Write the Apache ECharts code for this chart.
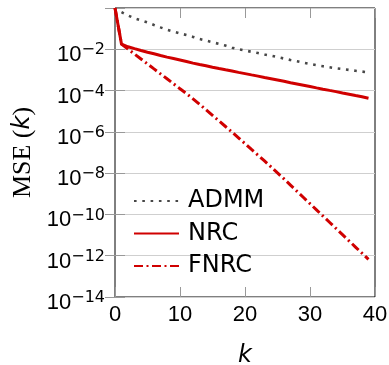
<!DOCTYPE html>
<html>
<head>
<meta charset="utf-8">
<script src="https://cdn.jsdelivr.net/npm/echarts@6/dist/echarts.min.js"></script>
<style>html,body{margin:0;padding:0;background:#fff}#c{width:389px;height:365px}</style>
</head>
<body>
<div id="c"></div>
<script>
const seriesNames = ['ADMM', 'NRC', 'FNRC'];
const xTicks = [0, 10, 20, 30, 40];
const yTickExponents = [0, -2, -4, -6, -8, -10, -12, -14];

const admmK = [1,2,3,4,5,6,7,8,9,10,11,12,13,14,15,16,17,18,19,20,21,22,23,24,25,26,27,28,29,30,31,32,33,34,35,36,37,38,39];
const admmMSE = [0.631,0.437,0.316,0.251,0.200,0.151,0.115,8.91e-2,7.24e-2,5.89e-2,4.90e-2,3.98e-2,3.16e-2,2.63e-2,2.19e-2,1.82e-2,1.51e-2,1.20e-2,1.00e-2,8.71e-3,7.59e-3,6.61e-3,5.62e-3,4.90e-3,4.17e-3,3.55e-3,3.02e-3,2.63e-3,2.24e-3,1.95e-3,1.70e-3,1.51e-3,1.35e-3,1.20e-3,1.10e-3,1.00e-3,9.12e-4,8.32e-4,7.59e-4];

const nrcK = [0,1,2,3,4,5,6,7,8,9,10,11,12,13,14,15,16,17,18,19,20,21,22,23,24,25,26,27,28,29,30,31,32,33,34,35,36,37,38,39];
const nrcMSE = [1.0,1.78e-2,1.32e-2,1.07e-2,8.71e-3,7.24e-3,6.03e-3,5.01e-3,4.17e-3,3.55e-3,3.02e-3,2.57e-3,2.14e-3,1.82e-3,1.58e-3,1.35e-3,1.17e-3,1.02e-3,8.91e-4,7.59e-4,6.61e-4,5.75e-4,5.01e-4,4.27e-4,3.72e-4,3.24e-4,2.82e-4,2.40e-4,2.09e-4,1.82e-4,1.58e-4,1.35e-4,1.17e-4,1.02e-4,8.91e-5,7.59e-5,6.61e-5,5.75e-5,5.01e-5,4.27e-5];

const fnrcK = [0,1,2,3,4,5,6,7,8,9,10,11,12,13,14,15,16,17,18,19,20,21,22,23,24,25,26,27,28,29,30,31,32,33,34,35,36,37,38,39];
const fnrcMSE = [1.0,1.78e-2,1.02e-2,5.89e-3,3.39e-3,1.95e-3,1.12e-3,6.46e-4,3.72e-4,2.14e-4,1.23e-4,7.08e-5,3.98e-5,2.19e-5,1.17e-5,6.31e-6,3.39e-6,1.82e-6,9.77e-7,5.13e-7,2.69e-7,1.41e-7,7.41e-8,3.89e-8,2.00e-8,1.02e-8,5.25e-9,2.63e-9,1.32e-9,6.61e-10,3.31e-10,1.66e-10,8.32e-11,4.17e-11,2.09e-11,1.05e-11,5.25e-12,2.63e-12,1.32e-12,6.61e-13];

const pair = (ks, vs) => ks.map((k, i) => [k, vs[i]]);
const SANS = 'DejaVu Sans';
const TICKFONT = 'Liberation Sans';
const SERIF = 'Liberation Serif';
const RED = '#d00000';

const chart = echarts.init(document.getElementById('c'), null, {renderer: 'canvas'});
const tickStyle = {show: true, inside: true, length: 10, lineStyle: {color: '#999', width: 1}};
const yMin = Math.pow(10, Math.min(...yTickExponents));
const yMax = Math.pow(10, Math.max(...yTickExponents));

chart.setOption({
  animation: false,
  grid: {left: 115, right: 14, top: 8, bottom: 68, containLabel: false, outerBoundsMode: 'none',
    show: true, borderColor: '#000', borderWidth: 1, backgroundColor: 'transparent'},
  legend: {
    data: seriesNames,
    orient: 'vertical',
    left: 133, top: 189, padding: 0,
    itemWidth: 45, itemHeight: 14, itemGap: 8.5,
    itemStyle: {opacity: 0},
    textStyle: {fontFamily: SANS, fontSize: 24, color: '#000', lineHeight: 24, padding: [0, 0, 0, 4]}
  },
  xAxis: [{
    type: 'value', min: xTicks[0], max: xTicks[xTicks.length - 1], interval: 10,
    axisLine: {show: false}, axisTick: tickStyle, splitLine: {show: false},
    axisLabel: {fontFamily: TICKFONT, fontSize: 22, color: '#000', margin: 7},
    name: 'k', nameLocation: 'middle', nameGap: 47,
    nameTextStyle: {fontFamily: SANS, fontStyle: 'italic', fontSize: 24, color: '#000'}
  }, {
    type: 'value', position: 'top', min: xTicks[0], max: xTicks[xTicks.length - 1], interval: 10,
    axisLine: {show: false}, axisTick: tickStyle, axisLabel: {show: false}, splitLine: {show: false}
  }],
  yAxis: [{
    type: 'log', logBase: 10, min: yMin, max: yMax, interval: 2,
    axisLine: {show: false}, axisTick: tickStyle,
    splitLine: {show: true, lineStyle: {color: '#cfcfcf', width: 1.2}},
    axisLabel: {
      margin: 10,
      padding: [12, 0, 0, 0],
      formatter: function (v) {
        const e = Math.round(Math.log10(v));
        if (e === 0) return '';
        return '{b|10}{e|\u2212' + (-e) + '}';
      },
      rich: {
        b: {fontFamily: TICKFONT, fontSize: 22, color: '#000', lineHeight: 26},
        e: {fontFamily: SANS, fontSize: 16, color: '#000', verticalAlign: 'top', lineHeight: 16}
      }
    },
    name: '{r|MSE}{r| (}{i|k}{r|)}', nameLocation: 'middle', nameGap: 76, nameRotate: 90,
    nameTextStyle: {
      rich: {
        r: {fontFamily: SERIF, fontSize: 26, color: '#000'},
        i: {fontFamily: SANS, fontStyle: 'italic', fontSize: 24, color: '#000'}
      }
    }
  }, {
    type: 'log', logBase: 10, min: yMin, max: yMax, interval: 2, position: 'right',
    axisLine: {show: false}, axisTick: tickStyle, axisLabel: {show: false}, splitLine: {show: false}
  }],
  series: [{
    name: seriesNames[0], type: 'line', symbol: 'none', data: pair(admmK, admmMSE),
    lineStyle: {color: '#474747', width: 2.6, type: [2.6, 5.7], cap: 'butt'}, itemStyle: {color: '#474747'}, z: 3
  }, {
    name: seriesNames[1], type: 'line', symbol: 'none', data: pair(nrcK, nrcMSE),
    lineStyle: {color: RED, width: 3, type: 'solid'}, itemStyle: {color: RED}, z: 4
  }, {
    name: seriesNames[2], type: 'line', symbol: 'none', data: pair(fnrcK, fnrcMSE),
    lineStyle: {color: RED, width: 3, type: [9, 3.5, 2, 3.5]}, itemStyle: {color: RED}, z: 4
  }]
});
</script>
</body>
</html>
